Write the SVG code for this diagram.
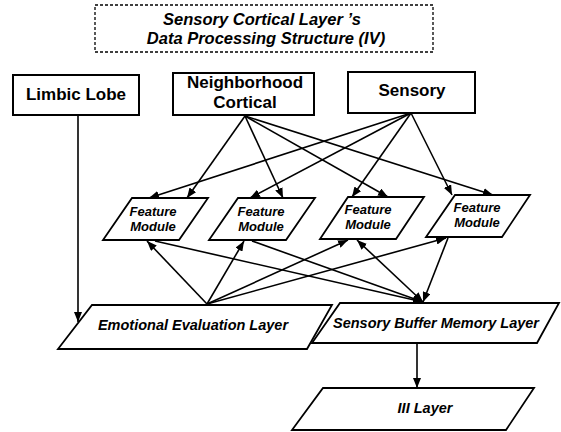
<svg xmlns="http://www.w3.org/2000/svg" width="561" height="432" viewBox="0 0 561 432">
<style>
.bg{fill:#ffffff}
.box{fill:#ffffff;stroke:#000;stroke-width:2}
.para{fill:#ffffff;stroke:#000;stroke-width:1.8}
.title{fill:none;stroke:#000;stroke-width:1.3;stroke-dasharray:3 2}
.t{font-family:"Liberation Sans",Arial,sans-serif;font-weight:bold;fill:#000;text-anchor:middle}
.bt{font-size:17px}
.it{font-style:italic;font-size:14.5px}
.tt{font-style:italic;font-size:16.5px}
.fm{font-style:italic;font-size:13px}
.c line{stroke:#000;stroke-width:1.6;marker-end:url(#ah)}
</style>
<defs>
<marker id="ah" viewBox="0 0 10 8" refX="10" refY="4" markerWidth="10" markerHeight="8" markerUnits="userSpaceOnUse" orient="auto-start-reverse">
<path d="M0,0 L10,4 L0,8 z" fill="#000"/>
</marker>
</defs>
<rect class="bg" x="0" y="0" width="561" height="432"/>

<g id="title">
<rect class="title" x="95" y="5" width="338" height="47"/>
<text class="t tt" x="262" y="25">Sensory Cortical Layer ’s</text>
<text class="t tt" x="266" y="44">Data Processing Structure (IV)</text>
</g>

<g id="connectors" class="c">
<line x1="78" y1="115" x2="78" y2="322"/>
<line x1="245" y1="116" x2="187" y2="198"/>
<line x1="245" y1="116" x2="283" y2="198"/>
<line x1="245" y1="116" x2="388" y2="197"/>
<line x1="245" y1="116" x2="493" y2="195"/>
<line x1="411" y1="113" x2="149" y2="198"/>
<line x1="411" y1="113" x2="250" y2="198"/>
<line x1="411" y1="113" x2="352" y2="197"/>
<line x1="411" y1="113" x2="452" y2="195"/>
<line x1="207" y1="304" x2="147" y2="241"/>
<line x1="207" y1="304" x2="244" y2="241"/>
<line x1="207" y1="304" x2="348" y2="240"/>
<line x1="207" y1="304" x2="446" y2="238"/>
<line x1="155" y1="241" x2="423" y2="302"/>
<line x1="252" y1="241" x2="423" y2="302"/>
<line x1="357" y1="240" x2="423" y2="302" style="marker-start:url(#ah)"/>
<line x1="448" y1="238" x2="423" y2="302"/>
<line x1="417" y1="343" x2="417" y2="388"/>
</g>

<g id="limbic">
<rect class="box" x="13" y="75" width="126" height="40"/>
<text class="t bt" x="76" y="100">Limbic Lobe</text>
</g>
<g id="neighborhood">
<rect class="box" x="173" y="73" width="141" height="42"/>
<text class="t bt" x="245" y="88">Neighborhood</text>
<text class="t bt" x="245" y="108">Cortical</text>
</g>
<g id="sensory">
<rect class="box" x="348" y="72" width="127" height="41"/>
<text class="t bt" x="412" y="96">Sensory</text>
</g>

<g id="fm1">
<polygon class="para" points="132,198 208,198 179,240 103,240"/>
<text class="t fm" x="153" y="216">Feature</text>
<text class="t fm" x="153" y="231">Module</text>
</g>
<g id="fm2">
<polygon class="para" points="238,198 315,198 286,240 209,240"/>
<text class="t fm" x="261" y="216">Feature</text>
<text class="t fm" x="261" y="231">Module</text>
</g>
<g id="fm3">
<polygon class="para" points="348,197 424,197 396,239 320,239"/>
<text class="t fm" x="368" y="214">Feature</text>
<text class="t fm" x="368" y="229">Module</text>
</g>
<g id="fm4">
<polygon class="para" points="455,195 530,195 502,237 426,237"/>
<text class="t fm" x="477" y="212">Feature</text>
<text class="t fm" x="477" y="227">Module</text>
</g>

<g id="emotional">
<polygon class="para" points="92,305 332,305 307,349 58,349"/>
<text class="t it" x="193" y="330">Emotional Evaluation Layer</text>
</g>
<g id="sbml">
<polygon class="para" points="340,303 559,303 537,343 312,343"/>
<text class="t it" x="436" y="328">Sensory Buffer Memory Layer</text>
</g>
<g id="iii">
<polygon class="para" points="323,388 534,388 506,430 292,430"/>
<text class="t it" x="425" y="413">III Layer</text>
</g>
</svg>
